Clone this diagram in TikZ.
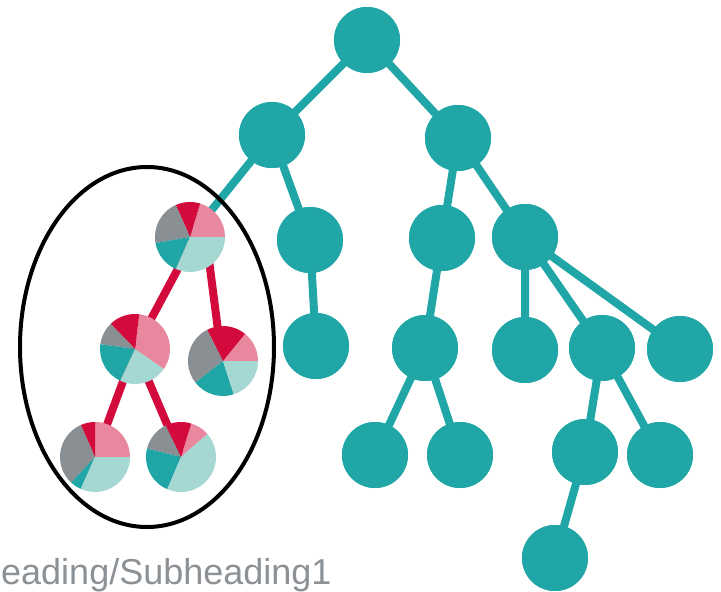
\documentclass[tikz,border=0pt]{standalone}
\usepackage{fontspec}
\setmainfont{Liberation Sans}
\definecolor{tealnode}{HTML}{20A6A7}
\definecolor{pred}{HTML}{D30A3C}
\definecolor{ppink}{HTML}{E9879F}
\definecolor{plight}{HTML}{A6D8D3}
\definecolor{pgray}{HTML}{8A8F93}
\definecolor{ptext}{HTML}{8C9196}
\newcommand{\pieslice}[4]{\fill[#4] (#1.center) -- ++(#2:35) arc[start angle=#2, end angle=#3, radius=35] -- cycle;}

\begin{document}
\begin{tikzpicture}[x=1pt,y=1pt,
    leaf/.style={circle,fill=tealnode,minimum size=66pt,inner sep=0pt},
    pie/.style={circle,minimum size=70pt,inner sep=0pt},
    tedge/.style={tealnode,line width=8pt},
    redge/.style={pred,line width=8pt}]
    \useasboundingbox (0,-592) rectangle (721,0);
    % teal tree
    \node[leaf] (r) at (367,-40) {};
    \node[leaf] (a) at (272,-135) {};
    \node[leaf] (b) at (458,-138) {};
    \node[pie] (pa) at (190,-237) {};
    \node[leaf] (a2) at (310,-240) {};
    \node[leaf] (b1) at (442,-238) {};
    \node[leaf] (b2) at (525,-237) {};
    \node[pie] (pb) at (135,-349) {};
    \node[pie] (pc) at (223,-361) {};
    \node[leaf] (a3) at (316,-346) {};
    \node[leaf] (b11) at (425,-348) {};
    \node[leaf] (b21) at (525,-350) {};
    \node[leaf] (b22) at (602,-348) {};
    \node[leaf] (b23) at (680,-349) {};
    \node[pie] (pd) at (95,-457) {};
    \node[pie] (pe) at (181,-457) {};
    \node[leaf] (b111) at (375,-455) {};
    \node[leaf] (b112) at (460,-455) {};
    \node[leaf] (b221) at (585,-452) {};
    \node[leaf] (b222) at (660,-455) {};
    \node[leaf] (b2211) at (555,-558) {};
    % edges behind nodes
    \draw[tedge] (r.center) -- (a.center) (r.center) -- (b.center)
        (a.center) -- (pa.center) (a.center) -- (a2.center) (a2.center) -- (a3.center)
        (b.center) -- (b1.center) (b.center) -- (b2.center) (b1.center) -- (b11.center)
        (b11.center) -- (b111.center) (b11.center) -- (b112.center)
        (b2.center) -- (b21.center) (b2.center) -- (b22.center) (b2.center) -- (b23.center)
        (b22.center) -- (b221.center) (b22.center) -- (b222.center) (b221.center) -- (b2211.center);
    \draw[redge] ([xshift=5]pa.center) -- (pb.center) ([xshift=16]pa.center) -- ([xshift=-1]pc.center)
        (pb.center) -- (pd.center) (pb.center) -- (pe.center);
    \foreach \n in {r,a,b,a2,b1,b2,a3,b11,b21,b22,b23,b111,b112,b221,b222,b2211}
        \fill[tealnode] (\n) circle (33);
    % pies
    \pieslice{pa}{0}{73}{ppink}
    \pieslice{pa}{73}{114}{pred}
    \pieslice{pa}{114}{190}{pgray}
    \pieslice{pa}{190}{246}{tealnode}
    \pieslice{pa}{246}{360}{plight}
    \pieslice{pb}{-35}{83}{ppink}
    \pieslice{pb}{83}{134}{pred}
    \pieslice{pb}{134}{172}{pgray}
    \pieslice{pb}{172}{245}{tealnode}
    \pieslice{pb}{245}{325}{plight}
    \pieslice{pc}{0}{51}{ppink}
    \pieslice{pc}{51}{117}{pred}
    \pieslice{pc}{117}{218}{pgray}
    \pieslice{pc}{218}{288}{tealnode}
    \pieslice{pc}{288}{360}{plight}
    \pieslice{pd}{0}{90}{ppink}
    \pieslice{pd}{90}{114}{pred}
    \pieslice{pd}{114}{227}{pgray}
    \pieslice{pd}{227}{246}{tealnode}
    \pieslice{pd}{246}{360}{plight}
    \pieslice{pe}{41}{73}{ppink}
    \pieslice{pe}{73}{116}{pred}
    \pieslice{pe}{116}{166}{pgray}
    \pieslice{pe}{166}{247}{tealnode}
    \pieslice{pe}{247}{401}{plight}
    % selection
    \draw[line width=4pt] (147,-347) ellipse [x radius=127, y radius=180];
    \node[anchor=base west,inner sep=0pt,text=ptext,font=\fontsize{36}{42}\selectfont] (cap) at (1,-584) {eading/Subheading1};
\end{tikzpicture}
\end{document}
